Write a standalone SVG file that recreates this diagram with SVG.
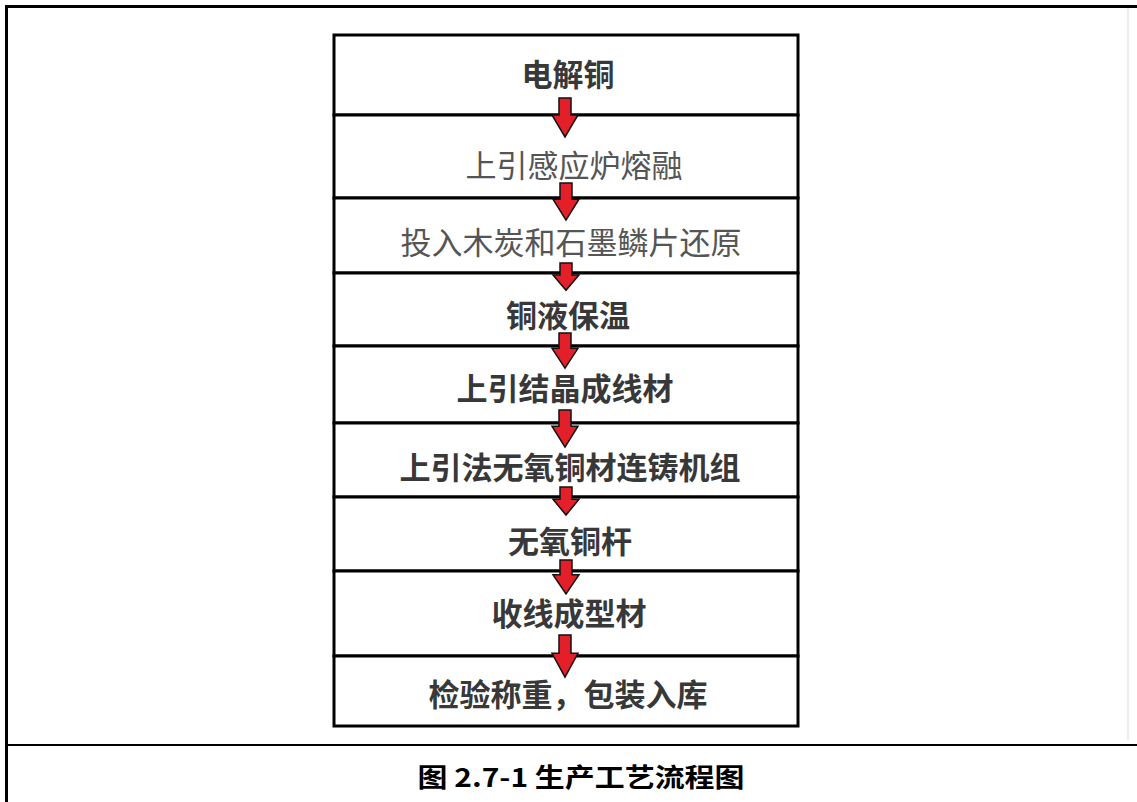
<svg xmlns="http://www.w3.org/2000/svg" width="1137" height="802" viewBox="0 0 1137 802">
<style>
.frame{fill:none;stroke:#000;stroke-width:3}
.sep{stroke:#000;stroke-width:2}
.row{fill:#fff;stroke:#000;stroke-width:3}
.t{font-family:"Noto Sans CJK SC","Noto Sans CJK JP",sans-serif;font-size:31px;text-anchor:middle;dominant-baseline:central;fill:#3a3a3a}
.b{font-weight:bold;fill:#383838}
.l{fill:#555}
.arrow{fill:#e3202a;stroke:#111;stroke-width:1.5;stroke-linejoin:miter}
.cap{font-family:"Noto Sans CJK SC",sans-serif;font-size:26px;font-weight:bold;text-anchor:middle;dominant-baseline:central;fill:#000}
</style>
<defs>
<path id="arr" class="arrow" vector-effect="non-scaling-stroke" d="M-6,0 H6 V17 H13 L0,39 L-13,17 H-6 Z"/>
</defs>
<rect width="1137" height="802" fill="#fff"/>
<g id="frame">
<path class="frame" d="M6.5,802 V6.5 H1137"/>
<line class="sep" x1="6" y1="745" x2="1137" y2="745"/>
<line x1="1128" y1="8" x2="1128" y2="740" stroke="#e6e6e6" stroke-width="1.5"/>
</g>
<g id="n1"><rect class="row" x="334" y="35" width="464" height="80"/><text class="t b" x="568" y="72">电解铜</text></g>
<g id="n2"><rect class="row" x="334" y="115" width="464" height="83"/><text class="t l" x="574" y="163">上引感应炉熔融</text></g>
<g id="n3"><rect class="row" x="334" y="198" width="464" height="75"/><text class="t l" x="571" y="240">投入木炭和石墨鳞片还原</text></g>
<g id="n4"><rect class="row" x="334" y="273" width="464" height="73"/><text class="t b" x="568" y="313">铜液保温</text></g>
<g id="n5"><rect class="row" x="334" y="346" width="464" height="77"/><text class="t b" x="565" y="386">上引结晶成线材</text></g>
<g id="n6"><rect class="row" x="334" y="423" width="464" height="74"/><text class="t b" x="570" y="465">上引法无氧铜材连铸机组</text></g>
<g id="n7"><rect class="row" x="334" y="497" width="464" height="74"/><text class="t b" x="570" y="539">无氧铜杆</text></g>
<g id="n8"><rect class="row" x="334" y="571" width="464" height="85"/><text class="t b" x="569" y="611">收线成型材</text></g>
<g id="n9"><rect class="row" x="334" y="656" width="464" height="70"/><text class="t b" x="568" y="692">检验称重，包装入库</text></g>
<g id="connectors">
<use href="#arr" transform="translate(565,98)"/>
<use href="#arr" transform="translate(566,183) scale(1,0.95)"/>
<use href="#arr" transform="translate(566,263) scale(1,0.7)"/>
<use href="#arr" transform="translate(565,333) scale(1,0.9)"/>
<use href="#arr" transform="translate(565,410) scale(1,0.95)"/>
<use href="#arr" transform="translate(566,487) scale(1,0.72)"/>
<use href="#arr" transform="translate(566,560) scale(1,0.87)"/>
<use href="#arr" transform="translate(565,635) scale(1,1.08)"/>
</g>
<text class="cap" x="581" y="775" textLength="327" lengthAdjust="spacingAndGlyphs">图 2.7-1 生产工艺流程图</text>
</svg>
